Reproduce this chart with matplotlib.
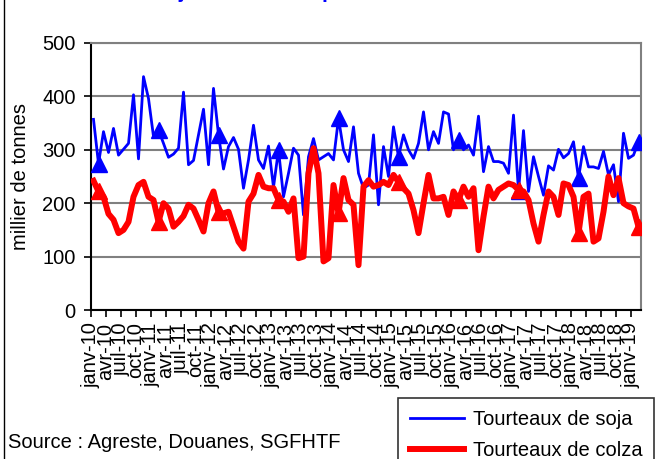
import matplotlib
matplotlib.use("Agg")
import matplotlib.pyplot as plt
from matplotlib.patches import Rectangle

plt.rcParams['font.family'] = ['Liberation Sans', 'DejaVu Sans']

months_fr = ['janv', 'avr', 'juil', 'oct']
years = list(range(10, 20))
tick_labels = [f"{m}-{y}" for y in years for m in months_fr][:37]

soja = [357, 274, 334, 295, 340, 290, 301, 312, 403, 283,
        437, 396, 325, 337, 312, 286, 292, 303, 408, 272,
        280, 328, 376, 272, 415, 328, 264, 306, 323, 301,
        228, 281, 346, 281, 265, 307, 230, 300, 212, 256,
        303, 290, 178, 287, 321, 281, 287, 293, 281, 359,
        300, 278, 343, 256, 228, 234, 328, 197, 306, 250,
        343, 287, 328, 300, 284, 312, 371, 300, 334, 312,
        371, 367, 300, 318, 300, 309, 290, 363, 259, 306,
        278, 278, 275, 256, 365, 222, 336, 222, 287, 250,
        215, 270, 262, 301, 285, 293, 315, 247, 306, 268,
        268, 265, 297, 253, 272, 203, 331, 284, 290, 315]

colza = [242, 222, 212, 180, 169, 144, 150, 165, 212, 234,
         240, 212, 206, 165, 200, 190, 156, 165, 176, 197,
         190, 169, 147, 200, 222, 184, 181, 184, 156, 128,
         115, 203, 218, 253, 231, 228, 228, 206, 203, 184,
         209, 97, 100, 256, 303, 256, 91, 97, 234, 181,
         247, 206, 197, 84, 231, 243, 231, 234, 240, 234,
         253, 240, 228, 218, 187, 144, 200, 253, 209, 209,
         212, 178, 222, 206, 231, 212, 228, 112, 175, 231,
         209, 225, 231, 237, 234, 225, 222, 206, 162, 128,
         178, 222, 212, 178, 237, 234, 212, 144, 212, 218,
         128, 134, 184, 250, 215, 247, 200, 194, 190, 156]

series_names = ['Tourteaux de soja', 'Tourteaux de colza']
y_ticks = [0, 100, 200, 300, 400, 500]

W, H = 664, 459
fig = plt.figure(figsize=(W / 100, H / 100), dpi=100)
ax = fig.add_axes([91 / W, 1 - 310 / H, (641 - 91) / W, (310 - 43) / H])

x = list(range(len(soja)))
ax.plot(x, soja, color='#0000FF', lw=2.0, marker='^', markersize=11,
        markevery=(1, 12), label=series_names[0], zorder=3)
ax.plot(x, colza, color='#FF0000', lw=4.3, marker='^', markersize=11,
        markevery=(1, 12), label=series_names[1], zorder=4)

ax.set_xlim(-0.5, len(soja) - 0.5)
ax.set_ylim(0, 500)
ax.set_yticks(y_ticks)
ax.set_yticklabels([str(v) for v in y_ticks], fontsize=14.5)
ax.set_xticks([3 * k - 0.5 for k in range(len(tick_labels))])
ax.set_xticklabels(tick_labels, rotation=90, fontsize=14.5)
ax.tick_params(axis='x', length=5, width=1.2, pad=4)
ax.tick_params(axis='y', length=5, width=1.2, pad=6)
ax.grid(axis='y', color='#808080', lw=1.5, zorder=1)
ax.set_axisbelow(True)
for s in ['left', 'bottom']:
    ax.spines[s].set_color('black')
    ax.spines[s].set_linewidth(1.5)
for s in ['right', 'top']:
    ax.spines[s].set_color('#808080')
    ax.spines[s].set_linewidth(1.5)
ax.set_ylabel('millier de tonnes', fontsize=14.5, labelpad=9)

# title cut off at top
fig.text(354 / W, 1 + 2 / H, 'Soja et colza : importations de tourteaux',
         color='#0000FF', fontsize=15, fontweight='bold', ha='center', va='baseline')

fig.text(8 / W, 1 - 443 / H, 'Source : Agreste, Douanes, SGFHTF', fontsize=14.5,
         ha='left', va='center')

leg = fig.legend(loc='upper left', bbox_to_anchor=(398 / W, 1 - 398 / H),
                 borderaxespad=0,
                 fontsize=14.5, frameon=True, fancybox=False, edgecolor='black',
                 handlelength=2.7, handletextpad=0.4, borderpad=0.6,
                 labelspacing=0.6, markerscale=0)
leg.get_frame().set_linewidth(1.2)
for h in leg.legend_handles:
    h.set_marker('')

fig.patches.append(Rectangle((4 / W, -0.1), 1.2, 1.2, transform=fig.transFigure,
                             fill=False, edgecolor='black', lw=1.0))

fig.savefig('out.png', dpi=100)
